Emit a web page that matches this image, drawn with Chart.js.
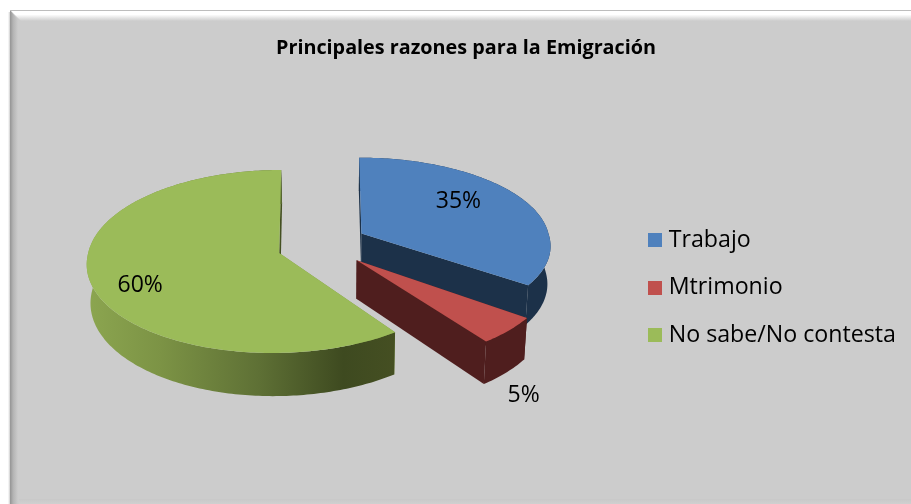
<!DOCTYPE html>
<html><head><meta charset="utf-8">
<style>html,body{margin:0;padding:0;background:#fff}#w{width:911px;height:504px}canvas{display:block}</style>
<script src="https://cdn.jsdelivr.net/npm/chart.js@4"></script></head>
<body><div id="w"><canvas id="c" width="911" height="504"></canvas></div>
<script>
const categories = ['Trabajo','Mtrimonio','No sabe/No contesta'];
const values = [35,5,60];
const chartTitle = 'Principales razones para la Emigración';
const topColors = ['#4F81BD','#C0504D','#9BBB59'];
const wallColors = ['#1C3149','#4F1E1E','#7F9A48'];

// projection settings for the tilted, exploded pie
const FONT = 'Open Sans';
const LEGEND_FONT = 23.2;
const persp = 0.093;
const explode = [[34.4,13.2],[29.6,39.8],[-47.8,32.6]];
const spanX = [187,194,191];
const spanY = [83,93,90.7];
const skewFront = [0.13,0.075,-0.07];
const skewBack = [0.03,0.04,-0.024];
const drawOrder = [0,2,1];
const labelShift = [[97,-32],[167,135],[-139,32]];
const depth = 38, depthGrow = 0.05, depthHorizon = 250, shrink = 0.015, shrinkAt = 340;

function markerFor(color){
  const k=document.createElement('canvas');k.width=14;k.height=14;
  const x=k.getContext('2d');x.fillStyle=color;x.fillRect(0,0,14,14);return k;
}
function drop(p){return [p[0]+(shrinkAt-p[0])*shrink, p[1]+depth+(p[1]-depthHorizon)*depthGrow];}
function poly(ctx,list,fill){
  ctx.fillStyle=fill;ctx.beginPath();
  list.forEach((p,i)=>i?ctx.lineTo(p[0],p[1]):ctx.moveTo(p[0],p[1]));
  ctx.closePath();ctx.fill();
}
const pie3d = {
  id:'pie3d',
  beforeDraw(chart){
    const ctx=chart.ctx,W=chart.width,H=chart.height;
    ctx.save();
    ctx.fillStyle='#fff';ctx.fillRect(0,0,W,H);
    let g=ctx.createLinearGradient(8,0,10,0);g.addColorStop(0,'rgba(120,120,120,0)');g.addColorStop(1,'rgba(120,120,120,.35)');
    ctx.fillStyle=g;ctx.fillRect(8,12,2,H-12);
    ctx.fillStyle='#ccc';ctx.fillRect(10,10,W-10,H-10);
    g=ctx.createLinearGradient(0,11,0,21);g.addColorStop(0,'#fff');g.addColorStop(.35,'#fff');g.addColorStop(1,'#ccc');
    ctx.fillStyle=g;ctx.beginPath();ctx.moveTo(11,11);ctx.lineTo(W,11);ctx.lineTo(W,21);ctx.lineTo(21,21);ctx.closePath();ctx.fill();
    g=ctx.createLinearGradient(10,0,18,0);g.addColorStop(0,'#949494');g.addColorStop(.4,'#b4b4b4');g.addColorStop(1,'#ccc');
    ctx.fillStyle=g;ctx.beginPath();ctx.moveTo(10,10);ctx.lineTo(18,20);ctx.lineTo(18,H);ctx.lineTo(10,H);ctx.closePath();ctx.fill();
    ctx.fillStyle='#bdbdbd';ctx.fillRect(10,10,W-10,1);
    g=ctx.createLinearGradient(0,H-5,0,H);g.addColorStop(0,'#c8c8c8');g.addColorStop(1,'#d0d0d0');
    ctx.fillStyle=g;ctx.fillRect(19,H-5,W-19,5);
    ctx.restore();
  },
  beforeDatasetsDraw(chart){
    const arcs = chart.getDatasetMeta(0).data, ctx = chart.ctx;
    const total = values.reduce((a,b)=>a+b,0);
    const geo = arcs.map((a,i)=>{
      const ax=a.x+explode[i][0], ay=a.y+explode[i][1], pts=[];
      const s=a.startAngle+Math.PI/2, e=a.endAngle+Math.PI/2;
      const n=Math.max(8,Math.ceil((e-s)*60));
      for(let j=0;j<=n;j++){
        const t=s+(e-s)*j/n, den=1+persp*Math.cos(t);
        const dy=-spanY[i]*Math.cos(t)/den;
        const dx=spanX[i]*Math.sin(t)/den+dy*(dy>0?skewFront[i]:skewBack[i]);
        pts.push([ax+dx, ay+dy]);
      }
      return {ax,ay,pts,arc:a};
    });
    ctx.save();
    drawOrder.forEach(i=>{
      const {ax,ay,pts,arc}=geo[i], apex=[ax,ay];
      const last=pts[pts.length-1];
      poly(ctx,[apex,pts[0],drop(pts[0]),drop(apex)],wallColors[i]);
      poly(ctx,[last,apex,drop(apex),drop(last)],i===2?'#445022':wallColors[i]);
      let wall=wallColors[i];
      if(i===2){
        const g=ctx.createLinearGradient(86,0,396,0);
        g.addColorStop(0,'#8CA650');g.addColorStop(.24,'#7C9345');g.addColorStop(.56,'#5E7035');g.addColorStop(.83,'#3E4A20');g.addColorStop(1,'#454F22');
        wall=g;
      }
      poly(ctx,pts.concat(pts.slice().reverse().map(drop)),wall);
      poly(ctx,[apex].concat(pts),arc.options.backgroundColor);
    });
    ctx.fillStyle='#000';ctx.font='23px "'+FONT+'"';ctx.textAlign='center';ctx.textBaseline='middle';
    geo.forEach((g,i)=>ctx.fillText(Math.round(values[i]/total*100)+'%',g.ax+labelShift[i][0],g.ay+labelShift[i][1]));
    ctx.restore();
    return false;
  }
};
new Chart(document.getElementById('c'),{
  type:'pie',
  data:{labels:categories,datasets:[{data:values,backgroundColor:topColors,borderWidth:0}]},
  options:{
    responsive:false,animation:false,
    layout:{padding:{left:26,right:5,top:0,bottom:133}},
    plugins:{
      tooltip:{enabled:false},
      title:{display:true,text:chartTitle,color:'#000',font:{family:FONT,size:19.8,weight:'bold'},padding:{top:36,bottom:10}},
      legend:{position:'right',align:'end',labels:{color:'#000',font:{family:FONT,size:LEGEND_FONT},padding:24.3,usePointStyle:true,pointStyleWidth:28-LEGEND_FONT,
        generateLabels(ch){return categories.map((t,i)=>({text:t,fillStyle:topColors[i],strokeStyle:topColors[i],lineWidth:0,pointStyle:markerFor(topColors[i]),index:i,hidden:false}));}}}
    }
  },
  plugins:[pie3d]
});
</script></body></html>
